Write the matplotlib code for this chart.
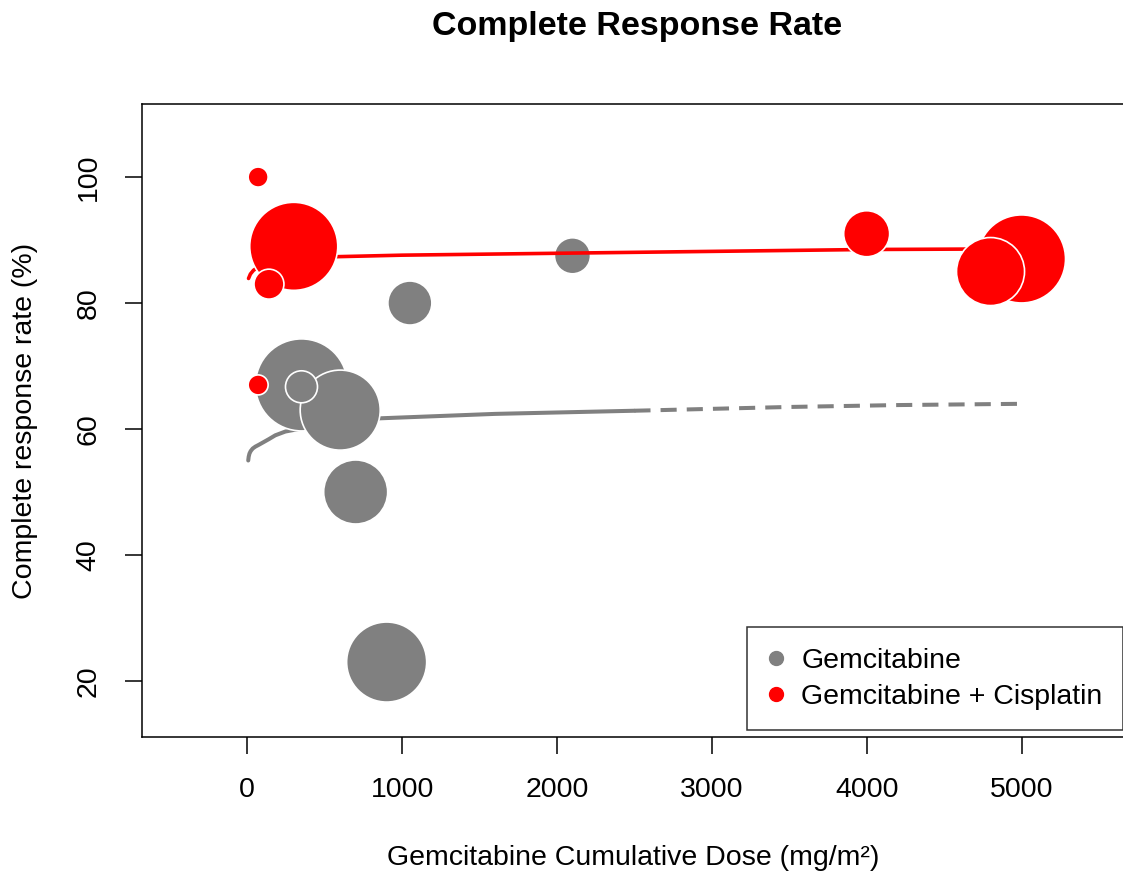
import matplotlib
matplotlib.use("Agg")
import matplotlib.pyplot as plt
import numpy as np

plt.rcParams["font.family"] = ["Liberation Sans", "DejaVu Sans"]

# study bubbles: cumulative dose, complete response rate, weight (bubble area)
gem_dose = [2100, 1050, 350, 350, 600, 700, 900]
gem_rate = [87.5, 80, 67, 66.7, 63, 50, 23]
gem_weight = [81, 121, 529, 64, 400, 256, 400]

cis_dose = [70, 300, 140, 70, 4000, 5000, 4800]
cis_rate = [100, 89, 83, 67, 91, 87, 85]
cis_weight = [25, 484, 56, 25, 132, 484, 289]

# fitted curves
gem_fit_dose = [6, 9, 14, 22, 35, 52, 75, 104, 140, 181, 246, 400, 860, 1600, 2500]
gem_fit_rate = [55.0, 55.6, 56.1, 56.5, 56.9, 57.2, 57.5, 57.9, 58.4, 59.0, 59.6,
                60.3, 61.7, 62.4, 62.9]
gem_ext_dose = [2500, 3500, 4200, 5000]
gem_ext_rate = [62.9, 63.5, 63.8, 64.0]

cis_fit_dose = [8, 20, 40, 70, 150, 300, 1000, 2000, 3000, 4000, 5000]
cis_fit_rate = [83.9, 84.6, 85.2, 85.7, 86.5, 87.2, 87.6, 87.9, 88.2, 88.5, 88.6]

x_ticks = [0, 1000, 2000, 3000, 4000, 5000]
y_ticks = [20, 40, 60, 80, 100]

GREY = "#808080"
RED = "#ff0000"
FS = 20.5


def sorted_bubbles(x, y, w):
    order = np.argsort(w)[::-1]  # big first so small ones sit on top
    x, y, w = np.asarray(x), np.asarray(y), np.asarray(w, dtype=float)
    return x[order], y[order], w[order] * 8.3


fig = plt.figure(figsize=(11.23, 8.73), dpi=100)
ax = fig.add_axes([142 / 1123, 1 - 737 / 873, 1 - 142 / 1123 + 0.002, (737 - 104) / 873])

ax.plot(gem_fit_dose, gem_fit_rate, color=GREY, lw=2.9, solid_capstyle="round",
        solid_joinstyle="round", zorder=1)
ax.plot(gem_ext_dose, gem_ext_rate, color=GREY, lw=2.9, linestyle=(0, (4.0, 2.5)),
        dash_capstyle="butt", zorder=1)

gx, gy, gs = sorted_bubbles(gem_dose, gem_rate, gem_weight)
ax.scatter(gx, gy, s=gs, color=GREY, edgecolors="white", linewidths=1.2, zorder=2)

ax.plot(cis_fit_dose, cis_fit_rate, color=RED, lw=2.6, solid_capstyle="round",
        solid_joinstyle="round", zorder=3)

cx, cy, cs = sorted_bubbles(cis_dose, cis_rate, cis_weight)
ax.scatter(cx, cy, s=cs, color=RED, edgecolors="white", linewidths=1.2, zorder=4)

ax.set_xlim(-680, 5670)
ax.set_ylim(11.1, 111.6)
ax.set_xticks(x_ticks)
ax.set_yticks(y_ticks)
ax.tick_params(length=12, width=1.1, labelsize=FS, pad=17)
ax.tick_params(axis="y", labelrotation=90, pad=17)
for lab in ax.get_yticklabels():
    lab.set_va("center")
for sp in ax.spines.values():
    sp.set_linewidth(1.1)

ax.set_xlabel("Gemcitabine Cumulative Dose (mg/m²)", fontsize=FS, labelpad=30)
ax.set_ylabel("Complete response rate (%)", fontsize=FS, labelpad=27)
fig.text(637 / 1123, 1 - 27 / 873, "Complete Response Rate", fontsize=24.5,
         fontweight="bold", ha="center", va="center")

handles = [
    plt.Line2D([], [], marker="o", ls="", color=GREY, markersize=10),
    plt.Line2D([], [], marker="o", ls="", color=RED, markersize=10),
]
leg = fig.legend(handles, ["Gemcitabine", "Gemcitabine + Cisplatin"],
                 loc="lower right", bbox_to_anchor=(1.0, 1 - 730 / 873),
                 fontsize=FS, frameon=True, fancybox=False, handlelength=0.6,
                 handletextpad=0.6, borderpad=0.72, labelspacing=0.35,
                 borderaxespad=0)
leg.get_frame().set_edgecolor("black")
leg.get_frame().set_linewidth(1.1)

fig.savefig("out.png", dpi=100)
